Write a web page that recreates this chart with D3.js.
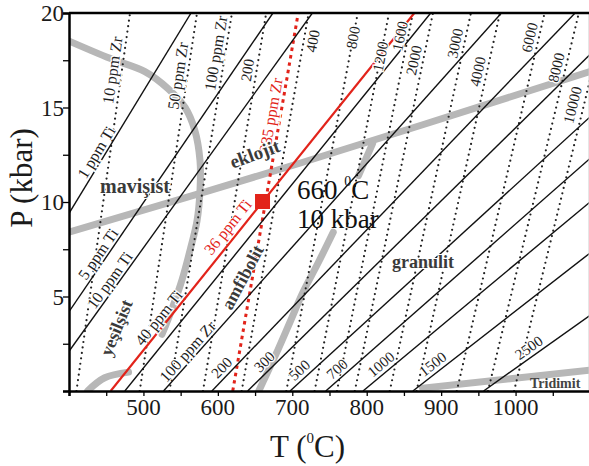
<!DOCTYPE html>
<html>
<head>
<meta charset="utf-8">
<script src="https://cdn.jsdelivr.net/npm/d3@7"></script>
<style>
body { margin: 0; background: #fff; }
text { font-family: "Liberation Serif", "Times New Roman", serif; }
</style>
</head>
<body>
<svg id="chart" width="589" height="466"></svg>
<script>
// Ti-in-quartz isopleths (solid lines), visible ends as [T (C), P (kbar)]
var tiPpm = [1, 5, 10, 36, 40, 100, 200, 300, 500, 700, 1000, 1500, 2500];
var tiFrom = [[400, 9.4], [400, 4.2], [400, 2.1], [456, 0], [475, 0], [527, 0], [592, 0],
              [640, 0], [697, 0], [745, 0], [795, 0], [862, 0], [957, 0]];
var tiTo = [[564, 20], [674, 20], [727, 20], [864, 20], [886, 20], [981, 20], [1080, 20],
            [1100, 17.8], [1100, 14.5], [1100, 12.3], [1100, 10.0], [1100, 7.3], [1100, 4.0]];

// Zr-in-rutile isopleths (dotted lines): T at 0 kbar and at 20 kbar
var zrPpm = [10, 50, 100, 200, 335, 400, 800, 1200, 1600, 2000, 3000, 4000, 6000, 8000, 10000];
var zrT0 = [410, 495, 535, 580, 620, 632, 692, 730, 760, 784, 831, 867, 921, 963, 998];
var zrT20 = [482, 572, 619, 665, 708, 722, 788, 830, 862, 889, 940, 979, 1039, 1085, 1122];

// facies boundaries (grey), [T, P]
var faciesA = [[401, 18.5], [455, 17.6], [502, 16.9], [533, 16.0], [556, 15.0], [569, 13.8],
               [576, 12.2], [576, 10.6], [572, 9.0], [563, 7.5], [552, 5.9], [538, 4.3], [525, 3.0]];
var faciesB = [[400, 8.4], [710, 12.05], [1100, 16.9]];
var faciesBstub = [[808, 13.1], [789, 11.4]];
var faciesC = [[755, 8.4], [735, 6.8], [714, 5.2], [697, 3.65], [681, 2.2], [665, 0.85], [655, 0]];
var faciesD = [[425, 0], [448, 0.7], [480, 1.0]];
var tridymite = [[875, 0.15], [1100, 1.1]];

// measured point
var pointT = 660, pointP = 10;

var xTicks = [500, 600, 700, 800, 900, 1000];
var yTicks = [5, 10, 15, 20];

var svg = d3.select("#chart");
var x = d3.scaleLinear().domain([400, 1100]).range([69, 590]);
var y = d3.scaleLinear().domain([0, 20]).range([391, 13]);
var red = "#e2231a";

svg.append("defs").append("clipPath").attr("id", "plot")
  .append("rect").attr("x", x(400)).attr("y", y(20))
  .attr("width", x(1100) - x(400)).attr("height", y(0) - y(20));

var g = svg.append("g").attr("clip-path", "url(#plot)");
var line = d3.line().x(function(d) { return x(d[0]); }).y(function(d) { return y(d[1]); });
var smooth = d3.line().curve(d3.curveCatmullRom).x(function(d) { return x(d[0]); }).y(function(d) { return y(d[1]); });

// grey facies curves
[faciesA, faciesB, faciesBstub, faciesC, faciesD, tridymite].forEach(function(c) {
  g.append("path").attr("d", smooth(c)).attr("fill", "none")
    .attr("stroke", "#b7b7b7").attr("stroke-width", 7).attr("stroke-linecap", "round");
});

// dotted Zr lines
zrPpm.forEach(function(v, i) {
  var isRed = v == 335;
  g.append("path").attr("d", line([[zrT0[i], 0], [zrT20[i], 20]])).attr("fill", "none")
    .attr("stroke", isRed ? red : "#222")
    .attr("stroke-width", isRed ? 3 : 2.2)
    .attr("stroke-linecap", isRed ? "butt" : "round")
    .attr("stroke-dasharray", isRed ? "3.5,4" : "0,5.5");
});

// solid Ti lines
tiPpm.forEach(function(v, i) {
  var isRed = v == 36;
  g.append("path").attr("d", line([tiFrom[i], tiTo[i]])).attr("fill", "none")
    .attr("stroke", isRed ? red : "#111")
    .attr("stroke-width", isRed ? 2.2 : 1.4);
});

// labels along lines: [text, line index, P of label centre, baseline offset, size]
var tiLabels = [["1 ppm Ti", 0, 12.4, -3, 16], ["5 ppm Ti", 1, 7.0, -3, 16], ["10 ppm Ti", 2, 5.6, -3, 16],
                ["40 ppm Ti", 3, 3.6, -3, 16], ["36 ppm Ti", 3, 8.3, -6, 16], ["100 ppm Zr", 5, 1.8, -3, 16],
                ["200", 6, 0.9, -4, 15], ["300", 7, 1.2, -4, 15], ["500", 8, 0.75, -4, 15], ["700", 9, 0.8, -4, 15],
                ["1000", 10, 1.05, -4, 15], ["1500", 11, 1.05, -4, 15], ["2500", 12, 1.9, -4, 15]];
var zrLabels = [["10 ppm Zr", 0, 16.9, -4, 16], ["50 ppm Zr", 1, 16.6, -4, 16], ["100 ppm Zr", 2, 17.8, -4, 16],
                ["200", 3, 16.9, -4, 15], ["335 ppm Zr", 4, 14.5, -4, 16], ["400", 5, 18.6, 14, 15],
                ["800", 6, 18.7, 5, 15], ["1200", 7, 17.7, 5, 15], ["1600", 8, 18.7, -3, 15], ["2000", 9, 17.4, -4, 15],
                ["3000", 10, 18.3, -4, 15], ["4000", 11, 16.8, -4, 15], ["6000", 12, 18.6, -4, 15],
                ["8000", 13, 17.0, -4, 15], ["10000", 14, 15.0, -6, 15]];

function placeLabel(a, b, P, dy, txt, size, color) {
  var ax = x(a[0]), ay = y(a[1]), bx = x(b[0]), by = y(b[1]);
  var t = (P - a[1]) / (b[1] - a[1]);
  var px = ax + t * (bx - ax), py = ay + t * (by - ay);
  var ang = Math.atan2(by - ay, bx - ax) * 180 / Math.PI;
  svg.append("text").attr("transform", "translate(" + px + "," + py + ") rotate(" + ang + ")")
    .attr("y", dy).attr("text-anchor", "middle").attr("font-size", size)
    .attr("fill", color).attr("stroke", "#fff").attr("stroke-width", 2.5)
    .attr("paint-order", "stroke").text(txt);
}
tiLabels.forEach(function(l) {
  placeLabel(tiFrom[l[1]], tiTo[l[1]], l[2], l[3], l[0], l[4], l[0] == "36 ppm Ti" ? red : "#1e1e1e");
});
zrLabels.forEach(function(l) {
  var i = l[1];
  placeLabel([zrT0[i], 0], [zrT20[i], 20], l[2], l[3], l[0], l[4], zrPpm[i] == 335 ? red : "#1e1e1e");
});

// facies names
var faciesText = [["mavişist", 100, 193, 0, 20], ["eklojit", 257, 160, -20, 19], ["yeşilşist", 122, 330, -68, 18],
                  ["amfibolit", 248, 280, -62, 18], ["granulit", 423, 268, 0, 18]];
faciesText.forEach(function(f) {
  svg.append("text").attr("transform", "translate(" + f[1] + "," + f[2] + ") rotate(" + f[3] + ")")
    .attr("text-anchor", f[0] == "mavişist" ? "start" : "middle")
    .attr("font-size", f[4]).attr("font-weight", "bold").attr("fill", "#3a3a3a")
    .attr("stroke", "#fff").attr("stroke-width", 2).attr("paint-order", "stroke").text(f[0]);
});
svg.append("text").attr("x", 530).attr("y", 388).attr("font-size", 14).attr("font-weight", "bold")
  .attr("fill", "#444").text("Tridimit");

// the measured point
svg.append("rect").attr("x", x(pointT) - 7.5).attr("y", y(pointP) - 8).attr("width", 15).attr("height", 15).attr("fill", red);
var t1 = svg.append("text").attr("x", 297).attr("y", 199).attr("font-size", 27).attr("fill", "#111");
t1.append("tspan").text("660 ");
t1.append("tspan").attr("font-size", 14).attr("dy", -13).text("0");
t1.append("tspan").attr("dy", 13).text("C");
svg.append("text").attr("x", 297).attr("y", 228).attr("font-size", 27).attr("fill", "#111").text("10 kbar");

// frame
svg.append("line").attr("x1", x(1100) - 1).attr("x2", x(1100) - 1).attr("y1", y(20)).attr("y2", y(0))
  .attr("stroke", "#ccc").attr("stroke-width", 1);
svg.append("line").attr("x1", x(400)).attr("x2", x(1100)).attr("y1", y(20)).attr("y2", y(20))
  .attr("stroke", "#000").attr("stroke-width", 2.5);

// axes
var xAxis = d3.axisBottom(x).tickValues(d3.range(400, 1101, 50)).tickSize(5).tickFormat("");
svg.append("g").attr("transform", "translate(0," + y(0) + ")").call(xAxis)
  .call(function(s) { s.select(".domain").attr("stroke-width", 2.5); s.selectAll(".tick line").attr("stroke-width", 1.3); });
var yAxis = d3.axisLeft(y).tickValues(d3.range(0, 20.1, 2.5)).tickSize(6).tickFormat("");
svg.append("g").attr("transform", "translate(" + x(400) + ",0)").call(yAxis)
  .call(function(s) { s.select(".domain").attr("stroke-width", 2.5); s.selectAll(".tick line").attr("stroke-width", 1.3); });

svg.selectAll(".xl").data(xTicks).enter().append("text")
  .attr("x", function(d) { return x(d); }).attr("y", 415).attr("text-anchor", "middle")
  .attr("font-size", 23).attr("fill", "#1a1a1a").text(function(d) { return d; });
svg.selectAll(".yl").data(yTicks).enter().append("text")
  .attr("x", 64).attr("y", function(d) { return y(d); }).attr("dy", "0.35em").attr("text-anchor", "end")
  .attr("font-size", 23).attr("fill", "#1a1a1a").text(function(d) { return d; });

// axis titles
svg.append("text").attr("transform", "translate(32,178) rotate(-90)").attr("text-anchor", "middle")
  .attr("font-size", 31).attr("fill", "#1a1a1a").text("P (kbar)");
var tx = svg.append("text").attr("x", 270).attr("y", 457).attr("font-size", 31).attr("fill", "#1a1a1a");
tx.append("tspan").text("T (");
tx.append("tspan").attr("font-size", 15).attr("dy", -14).text("0");
tx.append("tspan").attr("dy", 14).text("C)");
</script>
</body>
</html>
